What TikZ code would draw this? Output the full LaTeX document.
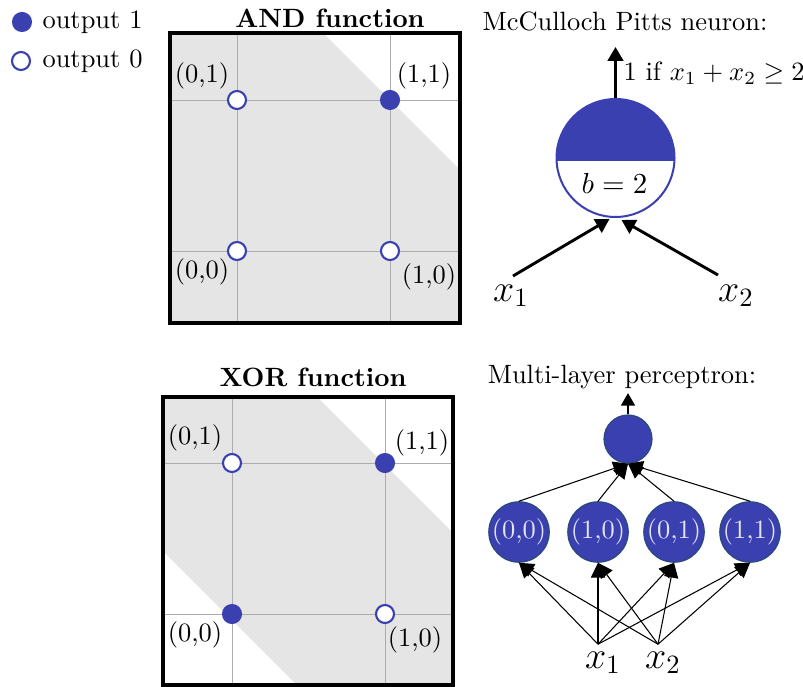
\documentclass[tikz,border=0pt]{standalone}
\usetikzlibrary{arrows.meta,calc}
\definecolor{mpblue}{RGB}{58,64,176}
\definecolor{mpedge}{RGB}{45,72,128}
\definecolor{regiongray}{RGB}{229,229,229}
\definecolor{gridgray}{RGB}{172,172,172}
\definecolor{labelwhite}{RGB}{228,228,242}

\begin{document}
\begin{tikzpicture}[x=0.378pt,y=-0.378pt,
  outone/.style={circle,fill=mpblue,inner sep=0pt,minimum size=7.6pt},
  outzero/.style={circle,draw=mpblue,fill=white,line width=0.8pt,inner sep=0pt,minimum size=6.8pt},
  plain/.style={inner sep=0pt},
  heading/.style={font=\bfseries,inner sep=0pt},
  frame/.style={line width=1.15pt},
  gridline/.style={draw=gridgray,line width=0.35pt},
  region/.style={fill=regiongray},
  bigarrow/.style={line width=1.1pt,-{Triangle[length=5.2pt,width=5.8pt]}},
  midarrow/.style={line width=0.95pt,-{Triangle[length=4.8pt,width=5.2pt]}},
  thinarrow/.style={line width=0.4pt,-{Triangle[length=5.6pt,width=5.4pt]}},
  inlabel/.style={font=\fontsize{14}{16}\selectfont},
  hidden/.style={circle,fill=mpblue,draw=mpedge,line width=0.5pt,minimum size=22.7pt,inner sep=0pt,text=labelwhite},
  topunit/.style={circle,fill=mpblue,draw=mpedge,line width=0.5pt,minimum size=18.1pt,inner sep=0pt},
  neuron/.style={circle,draw=mpblue,line width=0.76pt,minimum size=44.6pt,inner sep=0pt,
    path picture={\fill[mpblue] ($(path picture bounding box.west)+(0,3)$) rectangle (path picture bounding box.north east);}}
]
\useasboundingbox (0,0) rectangle (803,686);

% ---------- legend ----------
\node[outone] (leg1) at (22,22) {};
\node[outzero] (leg0) at (21,61) {};
\node[plain,anchor=base west] (legtext1) at (42,29) {output 1};
\node[plain,anchor=base west] (legtext0) at (42,68) {output 0};

% ---------- AND function ----------
\node[heading] (andtitle) at (330,18) {AND function};
\fill[region] (170,33) -- (323,33) -- (460,170) -- (460,323) -- (170,323) -- cycle;
\draw[gridline] (237,33) -- (237,323) (390,33) -- (390,323)
                (170,100) -- (460,100) (170,251) -- (460,251);
\draw[frame] (170,33) rectangle (460,323);
\node[outzero] (and01) at (237,100) {};
\node[outone]  (and11) at (390,100) {};
\node[outzero] (and00) at (237,251) {};
\node[outzero] (and10) at (390,251) {};
\node[plain] (and01l) at (202,76) {(0,1)};
\node[plain] (and11l) at (424,76) {(1,1)};
\node[plain] (and00l) at (202,272) {(0,0)};
\node[plain] (and10l) at (429,277) {(1,0)};

% ---------- XOR function ----------
\node[heading] (xortitle) at (313,377) {XOR function};
\fill[region] (163,397) -- (317,397) -- (453,533) -- (453,685) -- (297,685) -- (163,551) -- cycle;
\draw[gridline] (232,397) -- (232,685) (385,397) -- (385,685)
                (163,463) -- (453,463) (163,614) -- (453,614);
\draw[frame] (163,397) rectangle (453,685);
\node[outzero] (xor01) at (232,463) {};
\node[outone]  (xor11) at (385,463) {};
\node[outone]  (xor00) at (232,614) {};
\node[outzero] (xor10) at (385,614) {};
\node[plain] (xor01l) at (195,438) {(0,1)};
\node[plain] (xor11l) at (422,443) {(1,1)};
\node[plain] (xor00l) at (195,635) {(0,0)};
\node[plain] (xor10l) at (415,640) {(1,0)};

% ---------- McCulloch Pitts neuron ----------
\node[plain] (mptitle) at (625,21) {McCulloch Pitts neuron:};
\node[neuron] (mp) at (615.5,158) {};
\node[plain,font=\fontsize{10.5}{12}\selectfont] (bias) at (614.5,183) {$b=2$};
\coordinate (mpout) at (615.5,47);
\draw[bigarrow] (mp.north) -- (mpout);
\node[plain,anchor=base west] (rule) at (623,81) {1 if $x_1+x_2\geq 2$};
\node[inlabel,anchor=base] (nx1) at (511,301) {$x_1$};
\node[inlabel,anchor=base] (nx2) at (736,301) {$x_2$};
\coordinate (in1) at (513,276);
\coordinate (in2) at (718,275);
\draw[bigarrow] (in1) -- ($(mp.south)+(-6,1)$);
\draw[bigarrow] (in2) -- ($(mp.south)+(6,2)$);

% ---------- Multi-layer perceptron ----------
\node[plain,anchor=base] (mlptitle) at (622,383) {Multi-layer perceptron:};
\node[topunit] (o) at (628,439) {};
\coordinate (oout) at (628,393);
\draw[midarrow] (o.north) -- (oout);
\node[hidden] (h1) at (519,532) {(0,0)};
\node[hidden] (h2) at (598,532) {(1,0)};
\node[hidden] (h3) at (674,532) {(0,1)};
\node[hidden] (h4) at (750,532) {(1,1)};
\foreach \h in {h1,h2,h3,h4}
  \draw[thinarrow] (\h.north) -- (o.south);
\node[inlabel,anchor=base,inner sep=2.6pt] (x1) at (603,668) {$x_1$};
\node[inlabel,anchor=base,inner sep=2.6pt] (x2) at (663,668) {$x_2$};
\foreach \h in {h1,h2,h3,h4} {
  \draw[thinarrow] ($(x1.north)+(-5,0)$) -- (\h.south);
  \draw[thinarrow] ($(x2.north)+(-5,0)$) -- (\h.south);
}
\end{tikzpicture}
\end{document}
